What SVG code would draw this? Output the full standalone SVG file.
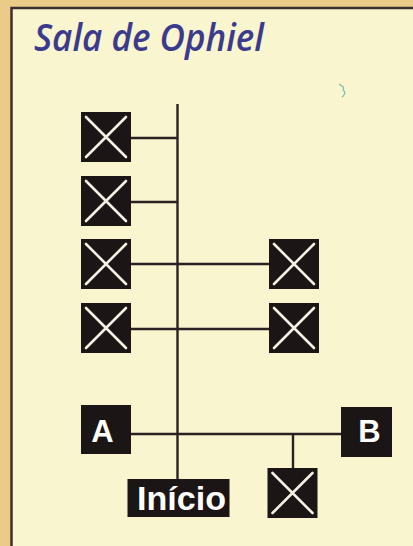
<svg xmlns="http://www.w3.org/2000/svg" width="413" height="546" viewBox="0 0 413 546">
  <defs>
    <style>
      .box { fill: #1b1515; }
      .x { stroke: #f4f1e4; stroke-width: 2.6; stroke-linecap: round; fill: none; }
      .conn { stroke: #2a2222; stroke-width: 2.4; fill: none; }
      .lbl { font-family: "Liberation Sans", Arial, sans-serif; font-weight: bold; fill: #ffffff; }
      .title { font-family: "Open Sans", "Noto Sans", sans-serif; font-style: italic; font-weight: 600; fill: #3b3a8c; }
    </style>
    <g id="xmark">
      <rect class="box" x="0" y="0" width="50" height="50"/>
      <path class="x" d="M5,5 L45,45 M45,5 L5,45"/>
    </g>
  </defs>

  <!-- background -->
  <rect x="0" y="0" width="413" height="546" fill="#ebcb88"/>
  <rect x="11.5" y="8" width="402" height="538" fill="#f8f5cf"/>
  <path d="M11.5,546 L11.5,8 L413,8" stroke="#3a3030" stroke-width="2.5" fill="none"/>

  <text class="title" x="34" y="51" font-size="38" textLength="230" lengthAdjust="spacingAndGlyphs">Sala de Ophiel</text>

  <path d="M339,84 C342,86 345,87 343,90 C346,92 345,95 342,97" stroke="#4aa59a" stroke-width="1.2" fill="none" opacity="0.7"/>

  <g id="connectors">
    <line class="conn" x1="177.5" y1="104" x2="177.5" y2="479"/>
    <line class="conn" x1="131" y1="138" x2="177.5" y2="138"/>
    <line class="conn" x1="131" y1="202" x2="177.5" y2="202"/>
    <line class="conn" x1="131" y1="264" x2="269" y2="264"/>
    <line class="conn" x1="131" y1="329" x2="269" y2="329"/>
    <line class="conn" x1="131" y1="434" x2="341" y2="434"/>
    <line class="conn" x1="293" y1="434" x2="293" y2="468"/>
  </g>

  <g id="node-l1"><use href="#xmark" x="81" y="112"/></g>
  <g id="node-l2"><use href="#xmark" x="81" y="176"/></g>
  <g id="node-l3"><use href="#xmark" x="81" y="239"/></g>
  <g id="node-l4"><use href="#xmark" x="81" y="303"/></g>
  <g id="node-r3"><use href="#xmark" x="269" y="239"/></g>
  <g id="node-r4"><use href="#xmark" x="269" y="303"/></g>
  <g id="node-bottom"><use href="#xmark" x="267.5" y="468"/></g>

  <g id="node-A">
    <rect class="box" x="81" y="405" width="50" height="49"/>
    <text class="lbl" x="102.5" y="442" font-size="31" text-anchor="middle">A</text>
  </g>
  <g id="node-B">
    <rect class="box" x="341" y="407" width="51" height="50"/>
    <text class="lbl" x="369.5" y="442" font-size="31" text-anchor="middle">B</text>
  </g>
  <g id="node-inicio">
    <rect class="box" x="127.5" y="479" width="102" height="38"/>
    <text class="lbl" x="137" y="510" font-size="33" textLength="89" lengthAdjust="spacingAndGlyphs">Início</text>
  </g>
</svg>
